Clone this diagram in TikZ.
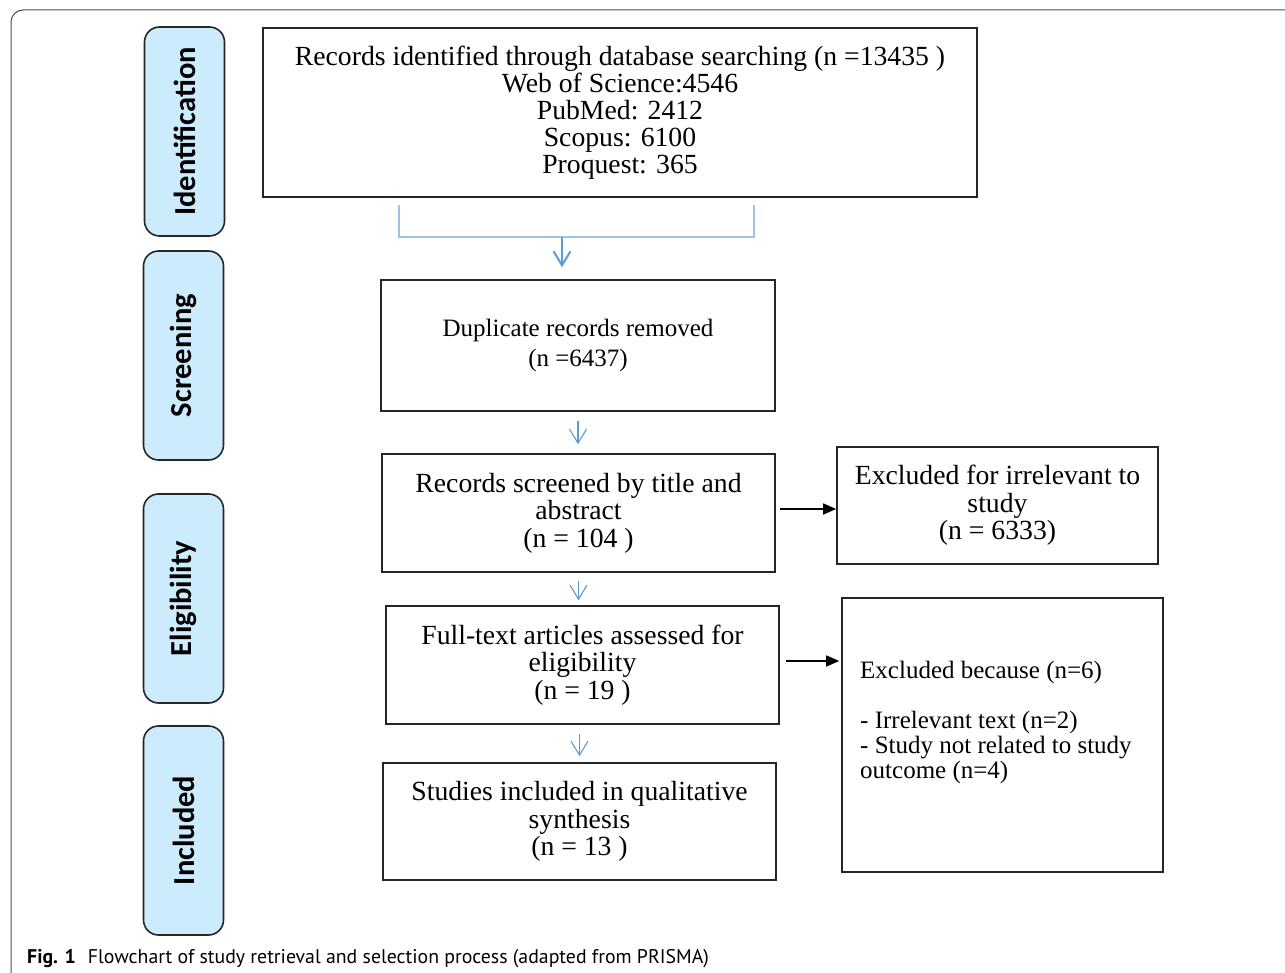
\documentclass[tikz,border=0pt]{standalone}
\usepackage{fontspec}
\setmainfont{Liberation Serif}
\newfontfamily\stagefont{Carlito}
\newfontfamily\captionfont{PT Sans}
\usepackage{tikz}
\usetikzlibrary{arrows.meta, positioning}
\definecolor{stageblue}{RGB}{204,235,252}
\definecolor{flowblue}{RGB}{91,155,213}
\definecolor{bracketblue}{RGB}{157,195,230}
\tikzset{
  block/.style={rectangle, draw=black!85, line width=1.6pt, fill=white,
                align=center, inner sep=0pt,
                font=\fontsize{27.7}{27.5}\selectfont},
  stage/.style={rectangle, rounded corners=15pt, draw=black!85,
                line width=1.6pt, fill=stageblue, rotate=90, inner sep=0pt,
                minimum width=209pt, minimum height=80pt,
                font=\stagefont\bfseries\fontsize{30.5}{31}\selectfont},
  flowarrow/.style={-{Straight Barb[length=14pt, width=17pt]},
                    draw=flowblue, line width=1.1pt},
  bigarrow/.style={flowarrow, line width=2pt},
  bracket/.style={draw=bracketblue, line width=1.5pt},
  sidearrow/.style={-{Triangle[length=13pt, width=11pt]}, draw=black,
                    line width=1.5pt},
  frame/.style={draw=black!70, line width=1pt, rounded corners=12pt},
}

\begin{document}
\begin{tikzpicture}[x=1pt, y=-1pt]
  \useasboundingbox (0,0) rectangle (1285,973);

  % outer frame and caption
  \draw[frame] (1285,10) -- (11,10) -- (11,973);
  \node[anchor=base west, inner sep=0pt,
        font=\captionfont\fontsize{19.8}{22}\selectfont] (caption) at (27,963)
       {\textbf{Fig. 1}\hspace{12pt}Flowchart of study retrieval and selection process (adapted from PRISMA)};

  % stages
  \node[stage] (sIdent)  at (184.5,131.5) {Identification};
  \node[stage] (sScreen) at (183.5,355.5) {Screening};
  \node[stage] (sElig)   at (183.5,598.5) {Eligibility};
  \node[stage] (sIncl)   at (183.5,830.5) {Included};

  % boxes
  \node[block, minimum width=714pt, minimum height=169pt,
        font=\fontsize{27.7}{27}\selectfont] (ident) at (620,112.5)
       {Records identified through database searching (n =13435 )\\Web of Science:4546\\PubMed: 2412\\Scopus: 6100\\Proquest: 365};
  \node[block, minimum width=394pt, minimum height=131pt,
        font=\fontsize{25}{30}\selectfont] (dup) at (578,345.5)
       {Duplicate records removed\\(n =6437)};
  \node[block, minimum width=393pt, minimum height=118pt] (screen) at (578.5,513)
       {Records screened by title and\\abstract\\(n = 104 )};
  \node[block, minimum width=321pt, minimum height=117pt] (excl1) at (997.5,505.5)
       {Excluded for irrelevant to\\study\\(n = 6333)};
  \node[block, minimum width=393pt, minimum height=118pt] (full) at (582.5,665)
       {Full-text articles assessed for\\eligibility\\(n = 19 )};
  \node[block, minimum width=321pt, minimum height=274pt] (excl2) at (1002.5,735) {};
  \node[anchor=west, align=left, inner sep=0pt,
        font=\fontsize{25}{25}\selectfont] (excl2text) at (860,722)
       {Excluded because (n=6)\\[25pt]- Irrelevant text (n=2)\\- Study not related to study\\outcome (n=4)};
  \node[block, minimum width=393pt, minimum height=117pt] (incl) at (579.5,821.5)
       {Studies included in qualitative\\synthesis\\(n = 13 )};

  % connectors
  \coordinate (brL) at (399,205);
  \coordinate (brR) at (754,205);
  \coordinate (brM) at (562,237);
  \draw[bracket] (brL) |- (brR |- brM) -- (brR);
  \draw[bigarrow, shorten >=12pt] (brM) -- (brM |- dup.north);
  \draw[flowarrow, shorten <=9pt, shorten >=9pt] (dup.south) -- (dup.south |- screen.north);
  \draw[flowarrow, shorten <=8pt, shorten >=5pt] (screen.south) -- (screen.south |- full.north);
  \draw[flowarrow, shorten <=9pt, shorten >=6pt] (incl.north |- full.south) -- (incl.north);
  \draw[sidearrow, shorten <=4pt] ([yshift=4pt]screen.east) -- ([yshift=4pt]screen.east -| excl1.west);
  \draw[sidearrow, shorten <=6pt, shorten >=2pt] ([yshift=4pt]full.east) -- ([yshift=4pt]full.east -| excl2.west);

\end{tikzpicture}
\end{document}
